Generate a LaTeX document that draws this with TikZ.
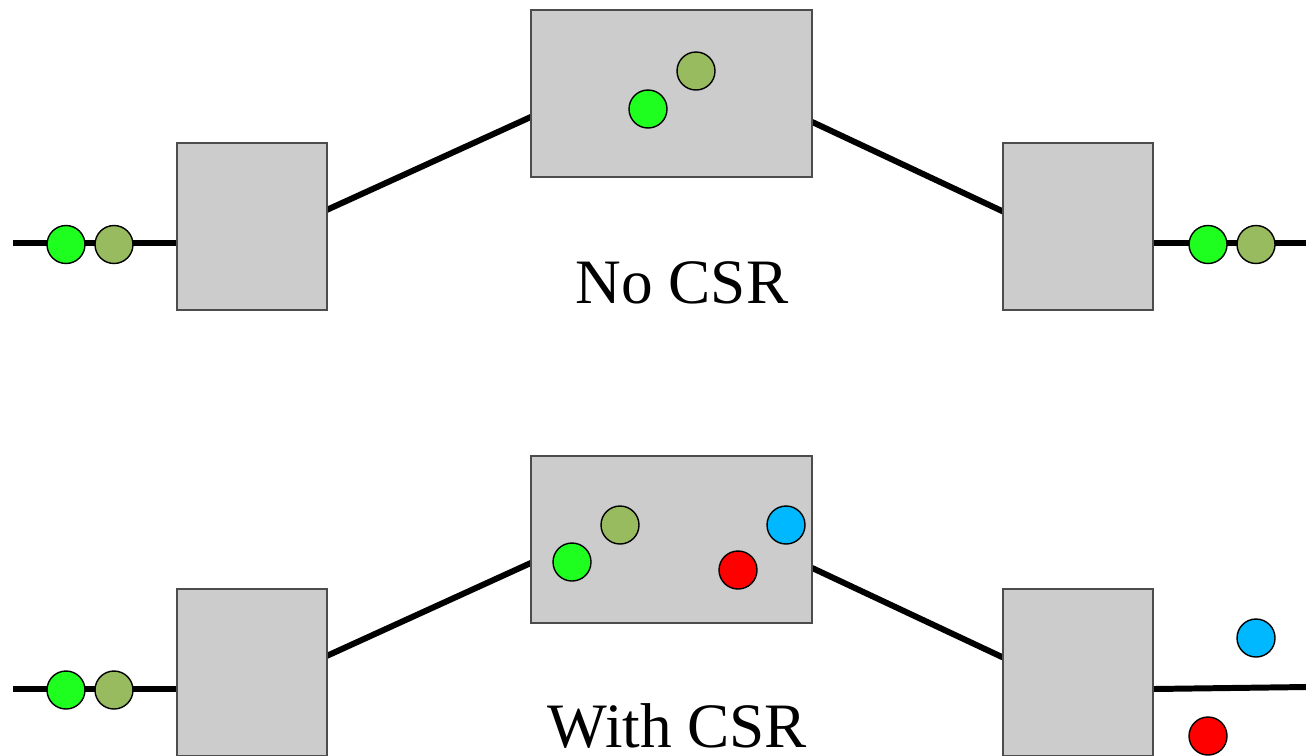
\documentclass[tikz,border=0pt]{standalone}
\usepackage{fontspec}
\setmainfont{Liberation Serif}
\usetikzlibrary{positioning,calc,backgrounds}
\definecolor{boxgray}{HTML}{CCCCCC}
\definecolor{pktGreen}{HTML}{1FFF1F}
\definecolor{pktOlive}{HTML}{98BB60}
\definecolor{pktRed}{HTML}{FF0000}
\definecolor{pktBlue}{HTML}{00B8FF}

\begin{document}
\begin{tikzpicture}[
    % grey switch boxes, thin dark outline
    unit/.style={draw=black!70, line width=0.4pt, fill=boxgray, inner sep=0pt, outer sep=0pt},
    edge/.style={unit, minimum width=1.5cm, minimum height=1.67cm},
    core/.style={unit, minimum width=2.81cm, minimum height=1.67cm},
    % heavy black wires, kept on the background layer so boxes and packets sit on top
    link/.style={line width=1.7pt, draw=black},
    pkt/.style={circle, draw=black, line width=0.4pt, fill=#1, minimum size=0.38cm, inner sep=0pt},
    caption/.style={font=\fontsize{18}{22}\selectfont, anchor=base, inner sep=0pt},
]
\useasboundingbox (0,0) rectangle (13.06,7.55);

%================= TOP : no CSR =================%
\node[edge] (swL)  at (2.52,5.285)  {};
\node[core] (mid)  at (6.715,6.615) {};
\node[edge] (swR)  at (10.78,5.285) {};
\coordinate (inL)  at (0.13,5.12);
\coordinate (outR) at (13.06,5.12);

\node[pkt=pktGreen] (g1) at (0.66,5.105)  {};
\node[pkt=pktOlive] (o1) at (1.14,5.105)  {};
\node[pkt=pktGreen] (g2) at (6.48,6.46)   {};
\node[pkt=pktOlive] (o2) at (6.96,6.84)   {};
\node[pkt=pktGreen] (g3) at (12.08,5.105) {};
\node[pkt=pktOlive] (o3) at (12.56,5.105) {};

\begin{scope}[on background layer]
  \draw[link] (inL) -- (inL -| swL.west);
  \draw[link] ($(swL.north east)!0.40!(swL.south east)$) -- ($(mid.north west)!0.64!(mid.south west)$);
  \draw[link] ($(mid.north east)!0.67!(mid.south east)$) -- ($(swR.north west)!0.41!(swR.south west)$);
  \draw[link] (outR -| swR.east) -- (outR);
\end{scope}

\node[caption] (capTop) at (6.82,4.52) {No CSR};

%================= BOTTOM : with CSR =================%
\node[edge] (swL2) at (2.52,0.825)  {};
\node[core] (mid2) at (6.715,2.155) {};
\node[edge] (swR2) at (10.78,0.825) {};
\coordinate (inL2)  at (0.13,0.66);
\coordinate (outR2) at (13.06,0.68);

\node[pkt=pktGreen] (g4) at (0.66,0.65)  {};
\node[pkt=pktOlive] (o4) at (1.14,0.65)  {};
\node[pkt=pktGreen] (g5) at (5.72,1.93)  {};
\node[pkt=pktOlive] (o5) at (6.20,2.30)  {};
\node[pkt=pktRed]   (r5) at (7.38,1.85)  {};
\node[pkt=pktBlue]  (b5) at (7.86,2.30)  {};
\node[pkt=pktBlue]  (b6) at (12.56,1.17) {};
\node[pkt=pktRed]   (r6) at (12.08,0.19) {};

\begin{scope}[on background layer]
  \draw[link] (inL2) -- (inL2 -| swL2.west);
  \draw[link] ($(swL2.north east)!0.40!(swL2.south east)$) -- ($(mid2.north west)!0.64!(mid2.south west)$);
  \draw[link] ($(mid2.north east)!0.67!(mid2.south east)$) -- ($(swR2.north west)!0.41!(swR2.south west)$);
  \draw[link] ([yshift=-1.0cm]swR2.north east) -- (outR2);
\end{scope}

\node[caption] (capBot) at (6.775,0.08) {With CSR};

\end{tikzpicture}
\end{document}
